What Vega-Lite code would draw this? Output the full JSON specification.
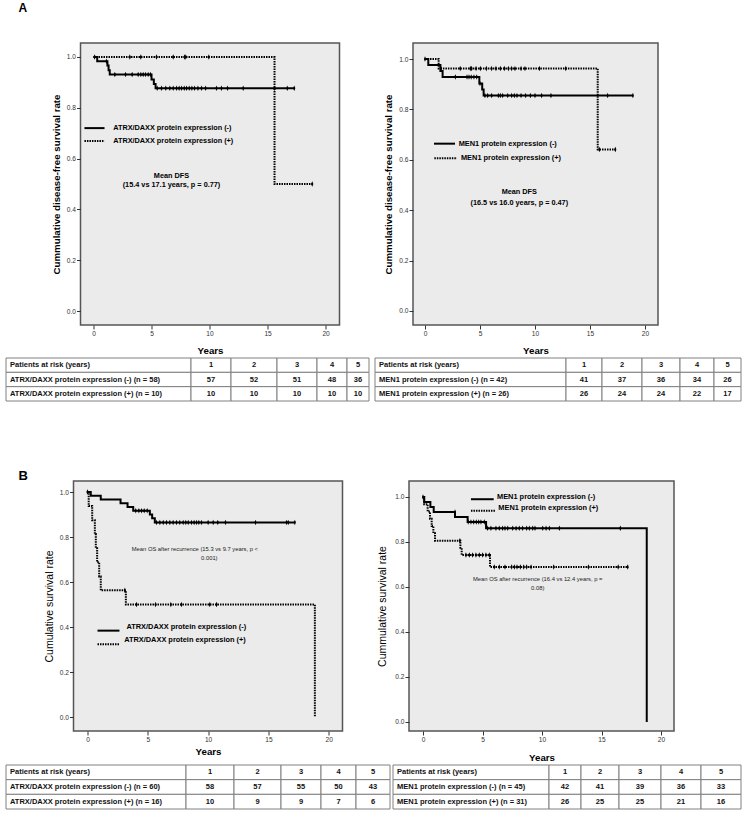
{
"$schema":"https://vega.github.io/schema/vega-lite/v6.json",
"background":"white",
"padding":{"left":5,"top":1,"right":5,"bottom":5},
"config":{"view":{"stroke":null},"font":"Liberation Sans",
"axis":{"domain":false,"grid":false,"tickColor":"#333","tickSize":4,"labelColor":"#333","labelFontSize":6.6,"labelPadding":1,"titleColor":"#000","titleFontSize":9.7,"titleFontWeight":"bold","labelFont":"Liberation Sans","titleFont":"Liberation Sans"}},
"datasets":{
"one":[{"k":1}],
"A1s":[{"g":"-","t":0,"s":1},{"g":"-","t":0.32,"s":0.983},{"g":"-","t":1.2,"s":0.966},{"g":"-","t":1.3,"s":0.948},{"g":"-","t":1.4,"s":0.931},{"g":"-","t":5.0,"s":0.911},{"g":"-","t":5.2,"s":0.894},{"g":"-","t":5.35,"s":0.877},{"g":"-","t":17.3,"s":0.877},{"g":"+","t":0,"s":1},{"g":"+","t":15.6,"s":0.5},{"g":"+","t":18.85,"s":0.5}],
"A1c":[{"g":"-","t":1.12,"s":0.983},{"g":"-","t":1.84,"s":0.931},{"g":"-","t":2.76,"s":0.931},{"g":"-","t":3.33,"s":0.931},{"g":"-","t":3.85,"s":0.931},{"g":"-","t":4.08,"s":0.931},{"g":"-","t":4.28,"s":0.931},{"g":"-","t":4.48,"s":0.931},{"g":"-","t":4.71,"s":0.931},{"g":"-","t":4.91,"s":0.931},{"g":"-","t":5.49,"s":0.877},{"g":"-","t":5.86,"s":0.877},{"g":"-","t":6.23,"s":0.877},{"g":"-","t":6.58,"s":0.877},{"g":"-","t":6.87,"s":0.877},{"g":"-","t":7.16,"s":0.877},{"g":"-","t":7.38,"s":0.877},{"g":"-","t":7.59,"s":0.877},{"g":"-","t":7.82,"s":0.877},{"g":"-","t":8.02,"s":0.877},{"g":"-","t":8.25,"s":0.877},{"g":"-","t":8.48,"s":0.877},{"g":"-","t":8.71,"s":0.877},{"g":"-","t":9.0,"s":0.877},{"g":"-","t":9.31,"s":0.877},{"g":"-","t":9.66,"s":0.877},{"g":"-","t":10.6,"s":0.877},{"g":"-","t":11.03,"s":0.877},{"g":"-","t":11.55,"s":0.877},{"g":"-","t":12.9,"s":0.877},{"g":"-","t":15.6,"s":0.877},{"g":"-","t":16.7,"s":0.877},{"g":"-","t":17.3,"s":0.877},{"g":"+","t":0.1,"s":1},{"g":"+","t":3.13,"s":1},{"g":"+","t":4.08,"s":1},{"g":"+","t":5.43,"s":1},{"g":"+","t":6.87,"s":1},{"g":"+","t":7.85,"s":1},{"g":"+","t":7.95,"s":1},{"g":"+","t":9.94,"s":1},{"g":"+","t":18.85,"s":0.5}],
"A2s":[{"g":"-","t":0,"s":1},{"g":"-","t":0.3,"s":0.976},{"g":"-","t":1.4,"s":0.952},{"g":"-","t":1.6,"s":0.929},{"g":"-","t":4.94,"s":0.903},{"g":"-","t":5.2,"s":0.879},{"g":"-","t":5.33,"s":0.855},{"g":"-","t":18.9,"s":0.855},{"g":"+","t":0,"s":1},{"g":"+","t":1.24,"s":0.962},{"g":"+","t":15.7,"s":0.641},{"g":"+","t":17.3,"s":0.641}],
"A2c":[{"g":"-","t":2.76,"s":0.929},{"g":"-","t":3.82,"s":0.929},{"g":"-","t":4.0,"s":0.929},{"g":"-","t":4.2,"s":0.929},{"g":"-","t":4.45,"s":0.929},{"g":"-","t":4.7,"s":0.929},{"g":"-","t":5.0,"s":0.903},{"g":"-","t":5.45,"s":0.855},{"g":"-","t":5.7,"s":0.855},{"g":"-","t":6.06,"s":0.855},{"g":"-","t":6.67,"s":0.855},{"g":"-","t":6.85,"s":0.855},{"g":"-","t":7.06,"s":0.855},{"g":"-","t":7.52,"s":0.855},{"g":"-","t":7.88,"s":0.855},{"g":"-","t":8.12,"s":0.855},{"g":"-","t":8.36,"s":0.855},{"g":"-","t":8.73,"s":0.855},{"g":"-","t":9.15,"s":0.855},{"g":"-","t":9.58,"s":0.855},{"g":"-","t":10.0,"s":0.855},{"g":"-","t":10.6,"s":0.855},{"g":"-","t":11.45,"s":0.855},{"g":"-","t":16.6,"s":0.855},{"g":"-","t":18.9,"s":0.855},{"g":"+","t":0,"s":1},{"g":"+","t":1.45,"s":0.962},{"g":"+","t":3.2,"s":0.962},{"g":"+","t":4.12,"s":0.962},{"g":"+","t":4.24,"s":0.962},{"g":"+","t":4.64,"s":0.962},{"g":"+","t":5.03,"s":0.962},{"g":"+","t":5.58,"s":0.962},{"g":"+","t":6.06,"s":0.962},{"g":"+","t":6.45,"s":0.962},{"g":"+","t":6.85,"s":0.962},{"g":"+","t":7.21,"s":0.962},{"g":"+","t":7.58,"s":0.962},{"g":"+","t":7.88,"s":0.962},{"g":"+","t":8.18,"s":0.962},{"g":"+","t":8.73,"s":0.962},{"g":"+","t":9.09,"s":0.962},{"g":"+","t":10.4,"s":0.962},{"g":"+","t":12.8,"s":0.962},{"g":"+","t":15.85,"s":0.641},{"g":"+","t":17.3,"s":0.641}],
"B1s":[{"g":"-","t":0,"s":1},{"g":"-","t":0.27,"s":0.983},{"g":"-","t":1.1,"s":0.967},{"g":"-","t":2.74,"s":0.95},{"g":"-","t":3.32,"s":0.933},{"g":"-","t":3.79,"s":0.917},{"g":"-","t":5.17,"s":0.9},{"g":"-","t":5.36,"s":0.883},{"g":"-","t":5.58,"s":0.865},{"g":"-","t":17.19,"s":0.865},{"g":"+","t":0,"s":1},{"g":"+","t":0.1,"s":0.938},{"g":"+","t":0.39,"s":0.875},{"g":"+","t":0.61,"s":0.813},{"g":"+","t":0.69,"s":0.75},{"g":"+","t":0.8,"s":0.688},{"g":"+","t":0.97,"s":0.625},{"g":"+","t":1.1,"s":0.563},{"g":"+","t":3.18,"s":0.5},{"g":"+","t":18.85,"s":0}],
"B1c":[{"g":"-","t":0,"s":1},{"g":"-","t":4.0,"s":0.917},{"g":"-","t":4.26,"s":0.917},{"g":"-","t":4.48,"s":0.917},{"g":"-","t":4.7,"s":0.917},{"g":"-","t":4.95,"s":0.917},{"g":"-","t":5.72,"s":0.865},{"g":"-","t":6.0,"s":0.865},{"g":"-","t":6.28,"s":0.865},{"g":"-","t":6.55,"s":0.865},{"g":"-","t":6.83,"s":0.865},{"g":"-","t":7.1,"s":0.865},{"g":"-","t":7.38,"s":0.865},{"g":"-","t":7.65,"s":0.865},{"g":"-","t":7.93,"s":0.865},{"g":"-","t":8.15,"s":0.865},{"g":"-","t":8.35,"s":0.865},{"g":"-","t":8.62,"s":0.865},{"g":"-","t":8.84,"s":0.865},{"g":"-","t":9.04,"s":0.865},{"g":"-","t":9.23,"s":0.865},{"g":"-","t":9.45,"s":0.865},{"g":"-","t":10.0,"s":0.865},{"g":"-","t":10.42,"s":0.865},{"g":"-","t":10.8,"s":0.865},{"g":"-","t":11.44,"s":0.865},{"g":"-","t":13.93,"s":0.865},{"g":"-","t":16.5,"s":0.865},{"g":"-","t":16.64,"s":0.865},{"g":"-","t":17.19,"s":0.865},{"g":"+","t":3.1,"s":0.563},{"g":"+","t":4.06,"s":0.5},{"g":"+","t":5.64,"s":0.5},{"g":"+","t":6.91,"s":0.5},{"g":"+","t":7.79,"s":0.5},{"g":"+","t":10.14,"s":0.5},{"g":"+","t":10.7,"s":0.5}],
"B2s":[{"g":"-","t":0,"s":1},{"g":"-","t":0.1,"s":0.978},{"g":"-","t":0.62,"s":0.956},{"g":"-","t":0.9,"s":0.933},{"g":"-","t":2.69,"s":0.911},{"g":"-","t":3.75,"s":0.889},{"g":"-","t":5.3,"s":0.861},{"g":"-","t":18.8,"s":0},{"g":"+","t":0,"s":1},{"g":"+","t":0.1,"s":0.968},{"g":"+","t":0.39,"s":0.935},{"g":"+","t":0.59,"s":0.903},{"g":"+","t":0.73,"s":0.871},{"g":"+","t":0.87,"s":0.839},{"g":"+","t":1.01,"s":0.806},{"g":"+","t":3.14,"s":0.774},{"g":"+","t":3.25,"s":0.742},{"g":"+","t":5.63,"s":0.689},{"g":"+","t":17.2,"s":0.689}],
"B2c":[{"g":"-","t":0,"s":1},{"g":"-","t":2.69,"s":0.933},{"g":"-","t":3.8,"s":0.889},{"g":"-","t":4.03,"s":0.889},{"g":"-","t":4.26,"s":0.889},{"g":"-","t":4.48,"s":0.889},{"g":"-","t":4.68,"s":0.889},{"g":"-","t":4.87,"s":0.889},{"g":"-","t":5.15,"s":0.889},{"g":"-","t":5.43,"s":0.861},{"g":"-","t":5.71,"s":0.861},{"g":"-","t":6.13,"s":0.861},{"g":"-","t":6.41,"s":0.861},{"g":"-","t":6.69,"s":0.861},{"g":"-","t":6.89,"s":0.861},{"g":"-","t":7.12,"s":0.861},{"g":"-","t":7.54,"s":0.861},{"g":"-","t":7.82,"s":0.861},{"g":"-","t":8.09,"s":0.861},{"g":"-","t":8.37,"s":0.861},{"g":"-","t":8.71,"s":0.861},{"g":"-","t":8.94,"s":0.861},{"g":"-","t":9.22,"s":0.861},{"g":"-","t":9.41,"s":0.861},{"g":"-","t":10.06,"s":0.861},{"g":"-","t":10.34,"s":0.861},{"g":"-","t":10.62,"s":0.861},{"g":"-","t":11.46,"s":0.861},{"g":"-","t":16.58,"s":0.861},{"g":"+","t":3.1,"s":0.806},{"g":"+","t":3.61,"s":0.742},{"g":"+","t":3.89,"s":0.742},{"g":"+","t":4.17,"s":0.742},{"g":"+","t":4.45,"s":0.742},{"g":"+","t":4.73,"s":0.742},{"g":"+","t":5.01,"s":0.742},{"g":"+","t":5.29,"s":0.742},{"g":"+","t":5.57,"s":0.742},{"g":"+","t":5.99,"s":0.689},{"g":"+","t":6.41,"s":0.689},{"g":"+","t":6.89,"s":0.689},{"g":"+","t":7.45,"s":0.689},{"g":"+","t":7.68,"s":0.689},{"g":"+","t":7.9,"s":0.689},{"g":"+","t":8.18,"s":0.689},{"g":"+","t":8.46,"s":0.689},{"g":"+","t":8.71,"s":0.689},{"g":"+","t":9.08,"s":0.689},{"g":"+","t":10.98,"s":0.689},{"g":"+","t":13.9,"s":0.689},{"g":"+","t":16.4,"s":0.689},{"g":"+","t":17.2,"s":0.689}],
"TA1":[{"r":0,"c":"L","t":"Patients at risk (years)"},{"r":0,"c":"1","t":"1"},{"r":0,"c":"2","t":"2"},{"r":0,"c":"3","t":"3"},{"r":0,"c":"4","t":"4"},{"r":0,"c":"5","t":"5"},{"r":1,"c":"L","t":"ATRX/DAXX protein expression (-) (n = 58)"},{"r":1,"c":"1","t":"57"},{"r":1,"c":"2","t":"52"},{"r":1,"c":"3","t":"51"},{"r":1,"c":"4","t":"48"},{"r":1,"c":"5","t":"36"},{"r":2,"c":"L","t":"ATRX/DAXX protein expression (+) (n = 10)"},{"r":2,"c":"1","t":"10"},{"r":2,"c":"2","t":"10"},{"r":2,"c":"3","t":"10"},{"r":2,"c":"4","t":"10"},{"r":2,"c":"5","t":"10"}],
"TA2":[{"r":0,"c":"L","t":"Patients at risk (years)"},{"r":0,"c":"1","t":"1"},{"r":0,"c":"2","t":"2"},{"r":0,"c":"3","t":"3"},{"r":0,"c":"4","t":"4"},{"r":0,"c":"5","t":"5"},{"r":1,"c":"L","t":"MEN1 protein expression (-) (n = 42)"},{"r":1,"c":"1","t":"41"},{"r":1,"c":"2","t":"37"},{"r":1,"c":"3","t":"36"},{"r":1,"c":"4","t":"34"},{"r":1,"c":"5","t":"26"},{"r":2,"c":"L","t":"MEN1 protein expression (+) (n = 26)"},{"r":2,"c":"1","t":"26"},{"r":2,"c":"2","t":"24"},{"r":2,"c":"3","t":"24"},{"r":2,"c":"4","t":"22"},{"r":2,"c":"5","t":"17"}],
"TB1":[{"r":0,"c":"L","t":"Patients at risk (years)"},{"r":0,"c":"1","t":"1"},{"r":0,"c":"2","t":"2"},{"r":0,"c":"3","t":"3"},{"r":0,"c":"4","t":"4"},{"r":0,"c":"5","t":"5"},{"r":1,"c":"L","t":"ATRX/DAXX protein expression (-) (n = 60)"},{"r":1,"c":"1","t":"58"},{"r":1,"c":"2","t":"57"},{"r":1,"c":"3","t":"55"},{"r":1,"c":"4","t":"50"},{"r":1,"c":"5","t":"43"},{"r":2,"c":"L","t":"ATRX/DAXX protein expression (+) (n = 16)"},{"r":2,"c":"1","t":"10"},{"r":2,"c":"2","t":"9"},{"r":2,"c":"3","t":"9"},{"r":2,"c":"4","t":"7"},{"r":2,"c":"5","t":"6"}],
"TB2":[{"r":0,"c":"L","t":"Patients at risk (years)"},{"r":0,"c":"1","t":"1"},{"r":0,"c":"2","t":"2"},{"r":0,"c":"3","t":"3"},{"r":0,"c":"4","t":"4"},{"r":0,"c":"5","t":"5"},{"r":1,"c":"L","t":"MEN1 protein expression (-) (n = 45)"},{"r":1,"c":"1","t":"42"},{"r":1,"c":"2","t":"41"},{"r":1,"c":"3","t":"39"},{"r":1,"c":"4","t":"36"},{"r":1,"c":"5","t":"33"},{"r":2,"c":"L","t":"MEN1 protein expression (+) (n = 31)"},{"r":2,"c":"1","t":"26"},{"r":2,"c":"2","t":"25"},{"r":2,"c":"3","t":"25"},{"r":2,"c":"4","t":"21"},{"r":2,"c":"5","t":"16"}]
},
"spacing":67,
"vconcat":[
{"spacing":1,"vconcat":[
 {"bounds":"flush","spacing":73.5,"hconcat":[
  {"width":1,"height":1,"data":{"values":[]},"mark":"point"},
  {"width":259,"height":282,"view":{"fill":"#ebebeb","stroke":"#555","strokeWidth":1.5},
    "layer":[
     {"data":{"name":"A1s"},"mark":{"type":"line","interpolate":"step-after","color":"#000","strokeWidth":2},"encoding":{"x":{"field":"t","type":"quantitative","scale":{"domain":[-1.12,21.2],"nice":false,"zero":false},"axis":{"values":[0,5,10,15,20],"title":"Years","titlePadding":8.9}},
     "y":{"field":"s","type":"quantitative","scale":{"domain":[-0.055,1.055],"nice":false,"zero":false},"axis":{"values":[0,0.2,0.4,0.6,0.8,1],"format":".1f","title":"Cummulative disease-free survival rate","titlePadding":5}},"strokeDash":{"field":"g","type":"nominal","scale":{"domain":["-","+"],"range":[[1,0],[1.5,1]]},"legend":null}}},
     {"data":{"name":"A1c"},"mark":{"type":"point","shape":"M0,-1L0.35,-0.15L0.35,0.15L0,1L-0.35,0.15L-0.35,-0.15Z","filled":true,"color":"#000","opacity":1,"size":30},"encoding":{"x":{"field":"t","type":"quantitative"},"y":{"field":"s","type":"quantitative"}}},
     {"data":{"name":"one"},"mark":{"type":"rule","color":"#000","strokeWidth":2},"encoding":{"x":{"datum":-0.78,"type":"quantitative"},"x2":{"datum":0.95},"y":{"datum":0.72,"type":"quantitative"}}},
     {"data":{"name":"one"},"mark":{"type":"rule","color":"#000","strokeWidth":2,"strokeDash":[1.5,1]},"encoding":{"x":{"datum":-0.78,"type":"quantitative"},"x2":{"datum":0.95},"y":{"datum":0.669,"type":"quantitative"}}},
     {"data":{"name":"one"},"mark":{"type":"text","align":"left","baseline":"middle","fontWeight":"bold","fontSize":7.3,"text":"ATRX/DAXX protein expression (-)"},"encoding":{"x":{"datum":1.7,"type":"quantitative"},"y":{"datum":0.72,"type":"quantitative"}}},
     {"data":{"name":"one"},"mark":{"type":"text","align":"left","baseline":"middle","fontWeight":"bold","fontSize":7.3,"text":"ATRX/DAXX protein expression (+)"},"encoding":{"x":{"datum":1.7,"type":"quantitative"},"y":{"datum":0.669,"type":"quantitative"}}},
     {"data":{"name":"one"},"mark":{"type":"text","align":"center","baseline":"alphabetic","fontWeight":"bold","fontSize":7.3,"lineHeight":9,"text":["Mean DFS","(15.4 vs 17.1 years, p = 0.77)"]},"encoding":{"x":{"datum":6.72,"type":"quantitative"},"y":{"datum":0.524,"type":"quantitative"}}},
     {"data":{"name":"one"},"mark":{"type":"text","align":"left","baseline":"alphabetic","fontWeight":"bold","fontSize":12,"text":"A"},"encoding":{"x":{"datum":-6.47,"type":"quantitative"},"y":{"datum":1.178,"type":"quantitative"}}}
    ]},
  {"width":245,"height":282,"view":{"fill":"#ebebeb","stroke":"#555","strokeWidth":1.5},
    "layer":[
     {"data":{"name":"A2s"},"mark":{"type":"line","interpolate":"step-after","color":"#000","strokeWidth":2},"encoding":{"x":{"field":"t","type":"quantitative","scale":{"domain":[-1.09,21.18],"nice":false,"zero":false},"axis":{"values":[0,5,10,15,20],"title":"Years","titlePadding":8.9}},
     "y":{"field":"s","type":"quantitative","scale":{"domain":[-0.0556,1.0635],"nice":false,"zero":false},"axis":{"values":[0,0.2,0.4,0.6,0.8,1],"format":".1f","title":"Cummulative disease-free survival rate","titlePadding":5}},"strokeDash":{"field":"g","type":"nominal","scale":{"domain":["-","+"],"range":[[1,0],[1.5,1]]},"legend":null}}},
     {"data":{"name":"A2c"},"mark":{"type":"point","shape":"M0,-1L0.35,-0.15L0.35,0.15L0,1L-0.35,0.15L-0.35,-0.15Z","filled":true,"color":"#000","opacity":1,"size":30},"encoding":{"x":{"field":"t","type":"quantitative"},"y":{"field":"s","type":"quantitative"}}},
     {"data":{"name":"one"},"mark":{"type":"rule","color":"#000","strokeWidth":2},"encoding":{"x":{"datum":0.82,"type":"quantitative"},"x2":{"datum":2.73},"y":{"datum":0.664,"type":"quantitative"}}},
     {"data":{"name":"one"},"mark":{"type":"rule","color":"#000","strokeWidth":2,"strokeDash":[1.5,1]},"encoding":{"x":{"datum":0.85,"type":"quantitative"},"x2":{"datum":2.91},"y":{"datum":0.606,"type":"quantitative"}}},
     {"data":{"name":"one"},"mark":{"type":"text","align":"left","baseline":"middle","fontWeight":"bold","fontSize":7.4,"text":"MEN1 protein expression (-)"},"encoding":{"x":{"datum":3.06,"type":"quantitative"},"y":{"datum":0.664,"type":"quantitative"}}},
     {"data":{"name":"one"},"mark":{"type":"text","align":"left","baseline":"middle","fontWeight":"bold","fontSize":7.4,"text":"MEN1 protein expression (+)"},"encoding":{"x":{"datum":3.27,"type":"quantitative"},"y":{"datum":0.606,"type":"quantitative"}}},
     {"data":{"name":"one"},"mark":{"type":"text","align":"center","baseline":"alphabetic","fontWeight":"bold","fontSize":7.3,"lineHeight":11,"text":["Mean DFS","(16.5 vs 16.0 years, p = 0.47)"]},"encoding":{"x":{"datum":8.57,"type":"quantitative"},"y":{"datum":0.466,"type":"quantitative"}}}
    ]}
 ]},
 {"bounds":"flush","spacing":0,"hconcat":[
   {"width":185,"height":43,"data":{"name":"TA1"},"transform":[{"filter":"datum.c=='L'"}],"encoding":{"y":{"field":"r","type":"ordinal","axis":null,"scale":{"padding":0}},"x":{"datum":0,"type":"quantitative","scale":{"domain":[0,1]},"axis":null}},"layer":[{"mark":{"type":"rect","fill":"#fff","stroke":"#808080","strokeWidth":1},"encoding":{"x2":{"datum":1}}},{"mark":{"type":"text","fontSize":7.5,"fontWeight":"bold","color":"#111","align":"left","dx":4},"encoding":{"text":{"field":"t"}}}]},
   {"width":40,"height":43,"data":{"name":"TA1"},"transform":[{"filter":"datum.c=='1'"}],"encoding":{"y":{"field":"r","type":"ordinal","axis":null,"scale":{"padding":0}},"x":{"datum":0,"type":"quantitative","scale":{"domain":[0,1]},"axis":null}},"layer":[{"mark":{"type":"rect","fill":"#fff","stroke":"#808080","strokeWidth":1},"encoding":{"x2":{"datum":1}}},{"mark":{"type":"text","fontSize":7.5,"fontWeight":"bold","color":"#111"},"encoding":{"x":{"datum":0.5,"type":"quantitative","axis":null},"text":{"field":"t"}}}]},
   {"width":46,"height":43,"data":{"name":"TA1"},"transform":[{"filter":"datum.c=='2'"}],"encoding":{"y":{"field":"r","type":"ordinal","axis":null,"scale":{"padding":0}},"x":{"datum":0,"type":"quantitative","scale":{"domain":[0,1]},"axis":null}},"layer":[{"mark":{"type":"rect","fill":"#fff","stroke":"#808080","strokeWidth":1},"encoding":{"x2":{"datum":1}}},{"mark":{"type":"text","fontSize":7.5,"fontWeight":"bold","color":"#111"},"encoding":{"x":{"datum":0.5,"type":"quantitative","axis":null},"text":{"field":"t"}}}]},
   {"width":40,"height":43,"data":{"name":"TA1"},"transform":[{"filter":"datum.c=='3'"}],"encoding":{"y":{"field":"r","type":"ordinal","axis":null,"scale":{"padding":0}},"x":{"datum":0,"type":"quantitative","scale":{"domain":[0,1]},"axis":null}},"layer":[{"mark":{"type":"rect","fill":"#fff","stroke":"#808080","strokeWidth":1},"encoding":{"x2":{"datum":1}}},{"mark":{"type":"text","fontSize":7.5,"fontWeight":"bold","color":"#111"},"encoding":{"x":{"datum":0.5,"type":"quantitative","axis":null},"text":{"field":"t"}}}]},
   {"width":30,"height":43,"data":{"name":"TA1"},"transform":[{"filter":"datum.c=='4'"}],"encoding":{"y":{"field":"r","type":"ordinal","axis":null,"scale":{"padding":0}},"x":{"datum":0,"type":"quantitative","scale":{"domain":[0,1]},"axis":null}},"layer":[{"mark":{"type":"rect","fill":"#fff","stroke":"#808080","strokeWidth":1},"encoding":{"x2":{"datum":1}}},{"mark":{"type":"text","fontSize":7.5,"fontWeight":"bold","color":"#111"},"encoding":{"x":{"datum":0.5,"type":"quantitative","axis":null},"text":{"field":"t"}}}]},
   {"width":22,"height":43,"data":{"name":"TA1"},"transform":[{"filter":"datum.c=='5'"}],"encoding":{"y":{"field":"r","type":"ordinal","axis":null,"scale":{"padding":0}},"x":{"datum":0,"type":"quantitative","scale":{"domain":[0,1]},"axis":null}},"layer":[{"mark":{"type":"rect","fill":"#fff","stroke":"#808080","strokeWidth":1},"encoding":{"x2":{"datum":1}}},{"mark":{"type":"text","fontSize":7.5,"fontWeight":"bold","color":"#111"},"encoding":{"x":{"datum":0.5,"type":"quantitative","axis":null},"text":{"field":"t"}}}]},
   {"width":6,"height":1,"data":{"values":[]},"mark":"point"},
   {"width":191,"height":43,"data":{"name":"TA2"},"transform":[{"filter":"datum.c=='L'"}],"encoding":{"y":{"field":"r","type":"ordinal","axis":null,"scale":{"padding":0}},"x":{"datum":0,"type":"quantitative","scale":{"domain":[0,1]},"axis":null}},"layer":[{"mark":{"type":"rect","fill":"#fff","stroke":"#808080","strokeWidth":1},"encoding":{"x2":{"datum":1}}},{"mark":{"type":"text","fontSize":7.5,"fontWeight":"bold","color":"#111","align":"left","dx":4},"encoding":{"text":{"field":"t"}}}]},
   {"width":36,"height":43,"data":{"name":"TA2"},"transform":[{"filter":"datum.c=='1'"}],"encoding":{"y":{"field":"r","type":"ordinal","axis":null,"scale":{"padding":0}},"x":{"datum":0,"type":"quantitative","scale":{"domain":[0,1]},"axis":null}},"layer":[{"mark":{"type":"rect","fill":"#fff","stroke":"#808080","strokeWidth":1},"encoding":{"x2":{"datum":1}}},{"mark":{"type":"text","fontSize":7.5,"fontWeight":"bold","color":"#111"},"encoding":{"x":{"datum":0.5,"type":"quantitative","axis":null},"text":{"field":"t"}}}]},
   {"width":40,"height":43,"data":{"name":"TA2"},"transform":[{"filter":"datum.c=='2'"}],"encoding":{"y":{"field":"r","type":"ordinal","axis":null,"scale":{"padding":0}},"x":{"datum":0,"type":"quantitative","scale":{"domain":[0,1]},"axis":null}},"layer":[{"mark":{"type":"rect","fill":"#fff","stroke":"#808080","strokeWidth":1},"encoding":{"x2":{"datum":1}}},{"mark":{"type":"text","fontSize":7.5,"fontWeight":"bold","color":"#111"},"encoding":{"x":{"datum":0.5,"type":"quantitative","axis":null},"text":{"field":"t"}}}]},
   {"width":38,"height":43,"data":{"name":"TA2"},"transform":[{"filter":"datum.c=='3'"}],"encoding":{"y":{"field":"r","type":"ordinal","axis":null,"scale":{"padding":0}},"x":{"datum":0,"type":"quantitative","scale":{"domain":[0,1]},"axis":null}},"layer":[{"mark":{"type":"rect","fill":"#fff","stroke":"#808080","strokeWidth":1},"encoding":{"x2":{"datum":1}}},{"mark":{"type":"text","fontSize":7.5,"fontWeight":"bold","color":"#111"},"encoding":{"x":{"datum":0.5,"type":"quantitative","axis":null},"text":{"field":"t"}}}]},
   {"width":34,"height":43,"data":{"name":"TA2"},"transform":[{"filter":"datum.c=='4'"}],"encoding":{"y":{"field":"r","type":"ordinal","axis":null,"scale":{"padding":0}},"x":{"datum":0,"type":"quantitative","scale":{"domain":[0,1]},"axis":null}},"layer":[{"mark":{"type":"rect","fill":"#fff","stroke":"#808080","strokeWidth":1},"encoding":{"x2":{"datum":1}}},{"mark":{"type":"text","fontSize":7.5,"fontWeight":"bold","color":"#111"},"encoding":{"x":{"datum":0.5,"type":"quantitative","axis":null},"text":{"field":"t"}}}]},
   {"width":27,"height":43,"data":{"name":"TA2"},"transform":[{"filter":"datum.c=='5'"}],"encoding":{"y":{"field":"r","type":"ordinal","axis":null,"scale":{"padding":0}},"x":{"datum":0,"type":"quantitative","scale":{"domain":[0,1]},"axis":null}},"layer":[{"mark":{"type":"rect","fill":"#fff","stroke":"#808080","strokeWidth":1},"encoding":{"x2":{"datum":1}}},{"mark":{"type":"text","fontSize":7.5,"fontWeight":"bold","color":"#111"},"encoding":{"x":{"datum":0.5,"type":"quantitative","axis":null},"text":{"field":"t"}}}]}
 ]}
]},
{"spacing":0,"vconcat":[
 {"bounds":"flush","spacing":66.5,"hconcat":[
  {"width":1,"height":1,"data":{"values":[]},"mark":"point"},
  {"width":269,"height":250,"view":{"fill":"#ebebeb","stroke":"#555","strokeWidth":1.5},
    "layer":[
     {"data":{"name":"B1s"},"mark":{"type":"line","interpolate":"step-after","color":"#000","strokeWidth":2},"encoding":{"x":{"field":"t","type":"quantitative","scale":{"domain":[-1.16,21.14],"nice":false,"zero":false},"axis":{"values":[0,5,10,15,20],"title":"Years","titlePadding":4.2}},
     "y":{"field":"s","type":"quantitative","scale":{"domain":[-0.062,1.049],"nice":false,"zero":false},"axis":{"values":[0,0.2,0.4,0.6,0.8,1],"format":".1f","title":"Cumulative survival rate","titleFontWeight":"normal","titleFontSize":10.5,"titlePadding":5}},"strokeDash":{"field":"g","type":"nominal","scale":{"domain":["-","+"],"range":[[1,0],[1.5,1]]},"legend":null}}},
     {"data":{"name":"B1c"},"mark":{"type":"point","shape":"M0,-1L0.35,-0.15L0.35,0.15L0,1L-0.35,0.15L-0.35,-0.15Z","filled":true,"color":"#000","opacity":1,"size":30},"encoding":{"x":{"field":"t","type":"quantitative"},"y":{"field":"s","type":"quantitative"}}},
     {"data":{"name":"one"},"mark":{"type":"rule","color":"#000","strokeWidth":2},"encoding":{"x":{"datum":0.83,"type":"quantitative"},"x2":{"datum":2.65},"y":{"datum":0.384,"type":"quantitative"}}},
     {"data":{"name":"one"},"mark":{"type":"rule","color":"#000","strokeWidth":2,"strokeDash":[1.5,1]},"encoding":{"x":{"datum":0.83,"type":"quantitative"},"x2":{"datum":2.65},"y":{"datum":0.324,"type":"quantitative"}}},
     {"data":{"name":"one"},"mark":{"type":"text","align":"left","baseline":"middle","fontWeight":"bold","fontSize":7.4,"text":"ATRX/DAXX protein expression (-)"},"encoding":{"x":{"datum":3.23,"type":"quantitative"},"y":{"datum":0.401,"type":"quantitative"}}},
     {"data":{"name":"one"},"mark":{"type":"text","align":"left","baseline":"middle","fontWeight":"bold","fontSize":7.4,"text":"ATRX/DAXX protein expression (+)"},"encoding":{"x":{"datum":3.04,"type":"quantitative"},"y":{"datum":0.342,"type":"quantitative"}}},
     {"data":{"name":"one"},"mark":{"type":"text","align":"center","baseline":"alphabetic","fontSize":5.8,"color":"#222","text":"Mean OS after recurrence (15.3 vs 9.7 years, p <"},"encoding":{"x":{"datum":8.9,"type":"quantitative"},"y":{"datum":0.736,"type":"quantitative"}}},
     {"data":{"name":"one"},"mark":{"type":"text","align":"center","baseline":"alphabetic","fontSize":5.8,"color":"#222","text":"0.001)"},"encoding":{"x":{"datum":10.1,"type":"quantitative"},"y":{"datum":0.70,"type":"quantitative"}}},
     {"data":{"name":"one"},"mark":{"type":"text","align":"left","baseline":"alphabetic","fontWeight":"bold","fontSize":13,"text":"B"},"encoding":{"x":{"datum":-5.72,"type":"quantitative"},"y":{"datum":1.053,"type":"quantitative"}}}
    ]},
  {"width":265,"height":250,"view":{"fill":"#ebebeb","stroke":"#555","strokeWidth":1.5},
    "layer":[
     {"data":{"name":"B2s"},"mark":{"type":"line","interpolate":"step-after","color":"#000","strokeWidth":2},"encoding":{"x":{"field":"t","type":"quantitative","scale":{"domain":[-1.176,21.09],"nice":false,"zero":false},"axis":{"values":[0,5,10,15,20],"title":"Years","titlePadding":10.2}},
     "y":{"field":"s","type":"quantitative","scale":{"domain":[-0.04,1.071],"nice":false,"zero":false},"axis":{"values":[0,0.2,0.4,0.6,0.8,1],"format":".1f","title":"Cummulative survival rate","titleFontWeight":"normal","titleFontSize":10.5,"titlePadding":7}},"strokeDash":{"field":"g","type":"nominal","scale":{"domain":["-","+"],"range":[[1,0],[1.5,1]]},"legend":null}}},
     {"data":{"name":"B2c"},"mark":{"type":"point","shape":"M0,-1L0.35,-0.15L0.35,0.15L0,1L-0.35,0.15L-0.35,-0.15Z","filled":true,"color":"#000","opacity":1,"size":30},"encoding":{"x":{"field":"t","type":"quantitative"},"y":{"field":"s","type":"quantitative"}}},
     {"data":{"name":"one"},"mark":{"type":"rule","color":"#000","strokeWidth":2},"encoding":{"x":{"datum":4.03,"type":"quantitative"},"x2":{"datum":5.94},"y":{"datum":0.99,"type":"quantitative"}}},
     {"data":{"name":"one"},"mark":{"type":"rule","color":"#000","strokeWidth":2,"strokeDash":[1.5,1]},"encoding":{"x":{"datum":4.03,"type":"quantitative"},"x2":{"datum":6.13},"y":{"datum":0.939,"type":"quantitative"}}},
     {"data":{"name":"one"},"mark":{"type":"text","align":"left","baseline":"middle","fontWeight":"bold","fontSize":7.4,"text":"MEN1 protein expression (-)"},"encoding":{"x":{"datum":6.22,"type":"quantitative"},"y":{"datum":1.0,"type":"quantitative"}}},
     {"data":{"name":"one"},"mark":{"type":"text","align":"left","baseline":"middle","fontWeight":"bold","fontSize":7.4,"text":"MEN1 protein expression (+)"},"encoding":{"x":{"datum":6.33,"type":"quantitative"},"y":{"datum":0.95,"type":"quantitative"}}},
     {"data":{"name":"one"},"mark":{"type":"text","align":"center","baseline":"alphabetic","fontSize":5.8,"color":"#222","lineHeight":9,"text":["Mean OS after recurrence (16.4 vs 12.4 years, p =","0.08)"]},"encoding":{"x":{"datum":9.64,"type":"quantitative"},"y":{"datum":0.625,"type":"quantitative"}}}
    ]}
 ]},
 {"bounds":"flush","spacing":0,"hconcat":[
   {"width":180,"height":44,"data":{"name":"TB1"},"transform":[{"filter":"datum.c=='L'"}],"encoding":{"y":{"field":"r","type":"ordinal","axis":null,"scale":{"padding":0}},"x":{"datum":0,"type":"quantitative","scale":{"domain":[0,1]},"axis":null}},"layer":[{"mark":{"type":"rect","fill":"#fff","stroke":"#808080","strokeWidth":1},"encoding":{"x2":{"datum":1}}},{"mark":{"type":"text","fontSize":7.5,"fontWeight":"bold","color":"#111","align":"left","dx":4},"encoding":{"text":{"field":"t"}}}]},
   {"width":48,"height":44,"data":{"name":"TB1"},"transform":[{"filter":"datum.c=='1'"}],"encoding":{"y":{"field":"r","type":"ordinal","axis":null,"scale":{"padding":0}},"x":{"datum":0,"type":"quantitative","scale":{"domain":[0,1]},"axis":null}},"layer":[{"mark":{"type":"rect","fill":"#fff","stroke":"#808080","strokeWidth":1},"encoding":{"x2":{"datum":1}}},{"mark":{"type":"text","fontSize":7.5,"fontWeight":"bold","color":"#111"},"encoding":{"x":{"datum":0.5,"type":"quantitative","axis":null},"text":{"field":"t"}}}]},
   {"width":47,"height":44,"data":{"name":"TB1"},"transform":[{"filter":"datum.c=='2'"}],"encoding":{"y":{"field":"r","type":"ordinal","axis":null,"scale":{"padding":0}},"x":{"datum":0,"type":"quantitative","scale":{"domain":[0,1]},"axis":null}},"layer":[{"mark":{"type":"rect","fill":"#fff","stroke":"#808080","strokeWidth":1},"encoding":{"x2":{"datum":1}}},{"mark":{"type":"text","fontSize":7.5,"fontWeight":"bold","color":"#111"},"encoding":{"x":{"datum":0.5,"type":"quantitative","axis":null},"text":{"field":"t"}}}]},
   {"width":40,"height":44,"data":{"name":"TB1"},"transform":[{"filter":"datum.c=='3'"}],"encoding":{"y":{"field":"r","type":"ordinal","axis":null,"scale":{"padding":0}},"x":{"datum":0,"type":"quantitative","scale":{"domain":[0,1]},"axis":null}},"layer":[{"mark":{"type":"rect","fill":"#fff","stroke":"#808080","strokeWidth":1},"encoding":{"x2":{"datum":1}}},{"mark":{"type":"text","fontSize":7.5,"fontWeight":"bold","color":"#111"},"encoding":{"x":{"datum":0.5,"type":"quantitative","axis":null},"text":{"field":"t"}}}]},
   {"width":35,"height":44,"data":{"name":"TB1"},"transform":[{"filter":"datum.c=='4'"}],"encoding":{"y":{"field":"r","type":"ordinal","axis":null,"scale":{"padding":0}},"x":{"datum":0,"type":"quantitative","scale":{"domain":[0,1]},"axis":null}},"layer":[{"mark":{"type":"rect","fill":"#fff","stroke":"#808080","strokeWidth":1},"encoding":{"x2":{"datum":1}}},{"mark":{"type":"text","fontSize":7.5,"fontWeight":"bold","color":"#111"},"encoding":{"x":{"datum":0.5,"type":"quantitative","axis":null},"text":{"field":"t"}}}]},
   {"width":34,"height":44,"data":{"name":"TB1"},"transform":[{"filter":"datum.c=='5'"}],"encoding":{"y":{"field":"r","type":"ordinal","axis":null,"scale":{"padding":0}},"x":{"datum":0,"type":"quantitative","scale":{"domain":[0,1]},"axis":null}},"layer":[{"mark":{"type":"rect","fill":"#fff","stroke":"#808080","strokeWidth":1},"encoding":{"x2":{"datum":1}}},{"mark":{"type":"text","fontSize":7.5,"fontWeight":"bold","color":"#111"},"encoding":{"x":{"datum":0.5,"type":"quantitative","axis":null},"text":{"field":"t"}}}]},
   {"width":3,"height":1,"data":{"values":[]},"mark":"point"},
   {"width":156,"height":44,"data":{"name":"TB2"},"transform":[{"filter":"datum.c=='L'"}],"encoding":{"y":{"field":"r","type":"ordinal","axis":null,"scale":{"padding":0}},"x":{"datum":0,"type":"quantitative","scale":{"domain":[0,1]},"axis":null}},"layer":[{"mark":{"type":"rect","fill":"#fff","stroke":"#808080","strokeWidth":1},"encoding":{"x2":{"datum":1}}},{"mark":{"type":"text","fontSize":7.5,"fontWeight":"bold","color":"#111","align":"left","dx":4},"encoding":{"text":{"field":"t"}}}]},
   {"width":32,"height":44,"data":{"name":"TB2"},"transform":[{"filter":"datum.c=='1'"}],"encoding":{"y":{"field":"r","type":"ordinal","axis":null,"scale":{"padding":0}},"x":{"datum":0,"type":"quantitative","scale":{"domain":[0,1]},"axis":null}},"layer":[{"mark":{"type":"rect","fill":"#fff","stroke":"#808080","strokeWidth":1},"encoding":{"x2":{"datum":1}}},{"mark":{"type":"text","fontSize":7.5,"fontWeight":"bold","color":"#111"},"encoding":{"x":{"datum":0.5,"type":"quantitative","axis":null},"text":{"field":"t"}}}]},
   {"width":38,"height":44,"data":{"name":"TB2"},"transform":[{"filter":"datum.c=='2'"}],"encoding":{"y":{"field":"r","type":"ordinal","axis":null,"scale":{"padding":0}},"x":{"datum":0,"type":"quantitative","scale":{"domain":[0,1]},"axis":null}},"layer":[{"mark":{"type":"rect","fill":"#fff","stroke":"#808080","strokeWidth":1},"encoding":{"x2":{"datum":1}}},{"mark":{"type":"text","fontSize":7.5,"fontWeight":"bold","color":"#111"},"encoding":{"x":{"datum":0.5,"type":"quantitative","axis":null},"text":{"field":"t"}}}]},
   {"width":42,"height":44,"data":{"name":"TB2"},"transform":[{"filter":"datum.c=='3'"}],"encoding":{"y":{"field":"r","type":"ordinal","axis":null,"scale":{"padding":0}},"x":{"datum":0,"type":"quantitative","scale":{"domain":[0,1]},"axis":null}},"layer":[{"mark":{"type":"rect","fill":"#fff","stroke":"#808080","strokeWidth":1},"encoding":{"x2":{"datum":1}}},{"mark":{"type":"text","fontSize":7.5,"fontWeight":"bold","color":"#111"},"encoding":{"x":{"datum":0.5,"type":"quantitative","axis":null},"text":{"field":"t"}}}]},
   {"width":40,"height":44,"data":{"name":"TB2"},"transform":[{"filter":"datum.c=='4'"}],"encoding":{"y":{"field":"r","type":"ordinal","axis":null,"scale":{"padding":0}},"x":{"datum":0,"type":"quantitative","scale":{"domain":[0,1]},"axis":null}},"layer":[{"mark":{"type":"rect","fill":"#fff","stroke":"#808080","strokeWidth":1},"encoding":{"x2":{"datum":1}}},{"mark":{"type":"text","fontSize":7.5,"fontWeight":"bold","color":"#111"},"encoding":{"x":{"datum":0.5,"type":"quantitative","axis":null},"text":{"field":"t"}}}]},
   {"width":40,"height":44,"data":{"name":"TB2"},"transform":[{"filter":"datum.c=='5'"}],"encoding":{"y":{"field":"r","type":"ordinal","axis":null,"scale":{"padding":0}},"x":{"datum":0,"type":"quantitative","scale":{"domain":[0,1]},"axis":null}},"layer":[{"mark":{"type":"rect","fill":"#fff","stroke":"#808080","strokeWidth":1},"encoding":{"x2":{"datum":1}}},{"mark":{"type":"text","fontSize":7.5,"fontWeight":"bold","color":"#111"},"encoding":{"x":{"datum":0.5,"type":"quantitative","axis":null},"text":{"field":"t"}}}]}
 ]}
]}
]
}
